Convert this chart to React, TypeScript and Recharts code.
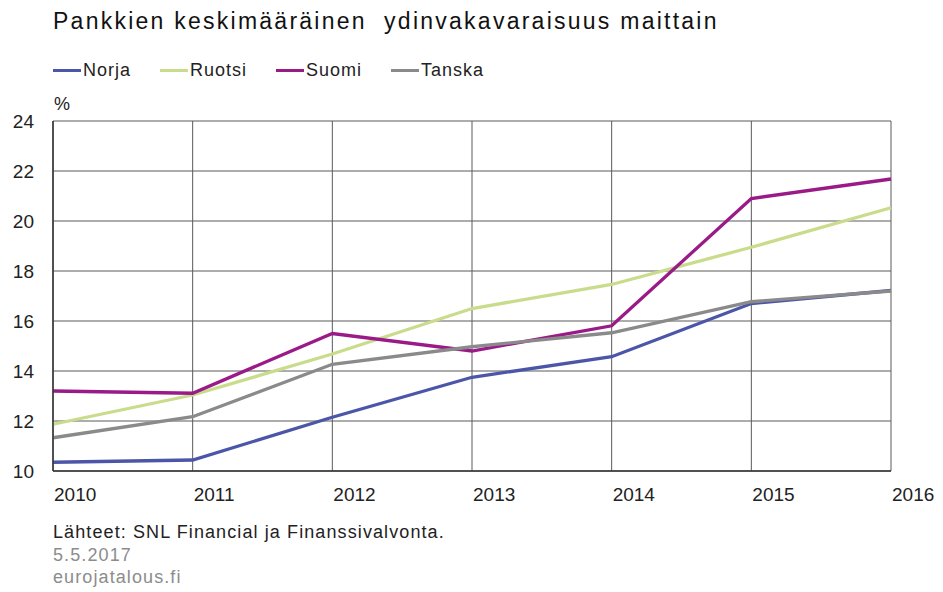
import { CartesianGrid, Legend, Line, LineChart, XAxis, YAxis } from "recharts";

const years = [2010, 2011, 2012, 2013, 2014, 2015, 2016];
const norja = [10.35, 10.44, 12.15, 13.75, 14.57, 16.7, 17.22];
const ruotsi = [11.87, 13.04, 14.68, 16.5, 17.46, 18.95, 20.53];
const suomi = [13.2, 13.11, 15.5, 14.8, 15.81, 20.9, 21.68];
const tanska = [11.33, 12.17, 14.27, 14.97, 15.53, 16.77, 17.2];
const yTicks = [10, 12, 14, 16, 18, 20, 22, 24];

const series = [
  { key: "norja", name: "Norja", color: "#4c56a8" },
  { key: "ruotsi", name: "Ruotsi", color: "#c9dc8c" },
  { key: "suomi", name: "Suomi", color: "#9a1a88" },
  { key: "tanska", name: "Tanska", color: "#8a8a8a" },
];

const data = years.map((year, i) => ({
  year,
  norja: norja[i],
  ruotsi: ruotsi[i],
  suomi: suomi[i],
  tanska: tanska[i],
}));

const font = '"Liberation Sans", Arial, sans-serif';

function XTick({ x, y, payload }: any) {
  return (
    <text x={x + 1} y={y} dy={22} textAnchor="start" fontSize={19} fill="#222" fontFamily={font}>
      {payload.value}
    </text>
  );
}

function YTick({ x, y, payload }: any) {
  return (
    <text x={x - 11} y={y} dy={7} textAnchor="end" fontSize={19} fill="#222" fontFamily={font}>
      {payload.value}
    </text>
  );
}

function LegendContent() {
  return (
    <div style={{ display: "flex", fontFamily: font, fontSize: 18, color: "#222", letterSpacing: 1, lineHeight: "21px" }}>
      {series.map((s) => (
        <div key={s.key} style={{ display: "flex", alignItems: "center", marginRight: 29 }}>
          <div style={{ width: 28, height: 3, background: s.color, marginRight: 2 }} />
          <span>{s.name}</span>
        </div>
      ))}
    </div>
  );
}

export default function App() {
  return (
    <div style={{ position: "absolute", left: 0, top: 0, width: 943, height: 592, background: "#fff", fontFamily: font }}>
      <div style={{ position: "absolute", left: 53, top: 8, fontSize: 23, color: "#111", whiteSpace: "pre", letterSpacing: 2.25 }}>
        {"Pankkien keskimääräinen  ydinvakavaraisuus maittain"}
      </div>
      <div style={{ position: "absolute", left: 54, top: 94, fontSize: 18, color: "#222" }}>%</div>
      <LineChart width={943} height={592} data={data} margin={{ top: 100, right: 52, bottom: 91, left: 0 }}>
        <CartesianGrid stroke="#5a5a5a" strokeWidth={1} />
        <XAxis
          dataKey="year"
          type="number"
          domain={[2010, 2016]}
          ticks={years}
          height={30}
          tickLine={false}
          axisLine={{ stroke: "#333", strokeWidth: 1.5 }}
          tick={<XTick />}
          interval={0}
        />
        <YAxis
          domain={[10, 24]}
          ticks={yTicks}
          width={53}
          tickLine={false}
          axisLine={{ stroke: "#333", strokeWidth: 1.5 }}
          tick={<YTick />}
          interval={0}
        />
        <Legend
          verticalAlign="top"
          content={<LegendContent />}
          wrapperStyle={{ position: "absolute", left: 53, top: 60, width: 600, height: 21 }}
        />
        {series.map((s) => (
          <Line
            key={s.key}
            dataKey={s.key}
            name={s.name}
            stroke={s.color}
            strokeWidth={3.3}
            dot={false}
            type="linear"
            isAnimationActive={false}
          />
        ))}
      </LineChart>
      <div style={{ position: "absolute", left: 53, top: 521, fontSize: 18, color: "#222", lineHeight: "22.5px", letterSpacing: 1.1 }}>
        <div>Lähteet: SNL Financial ja Finanssivalvonta.</div>
        <div style={{ color: "#8c8c8c" }}>5.5.2017</div>
        <div style={{ color: "#8c8c8c" }}>eurojatalous.fi</div>
      </div>
    </div>
  );
}
